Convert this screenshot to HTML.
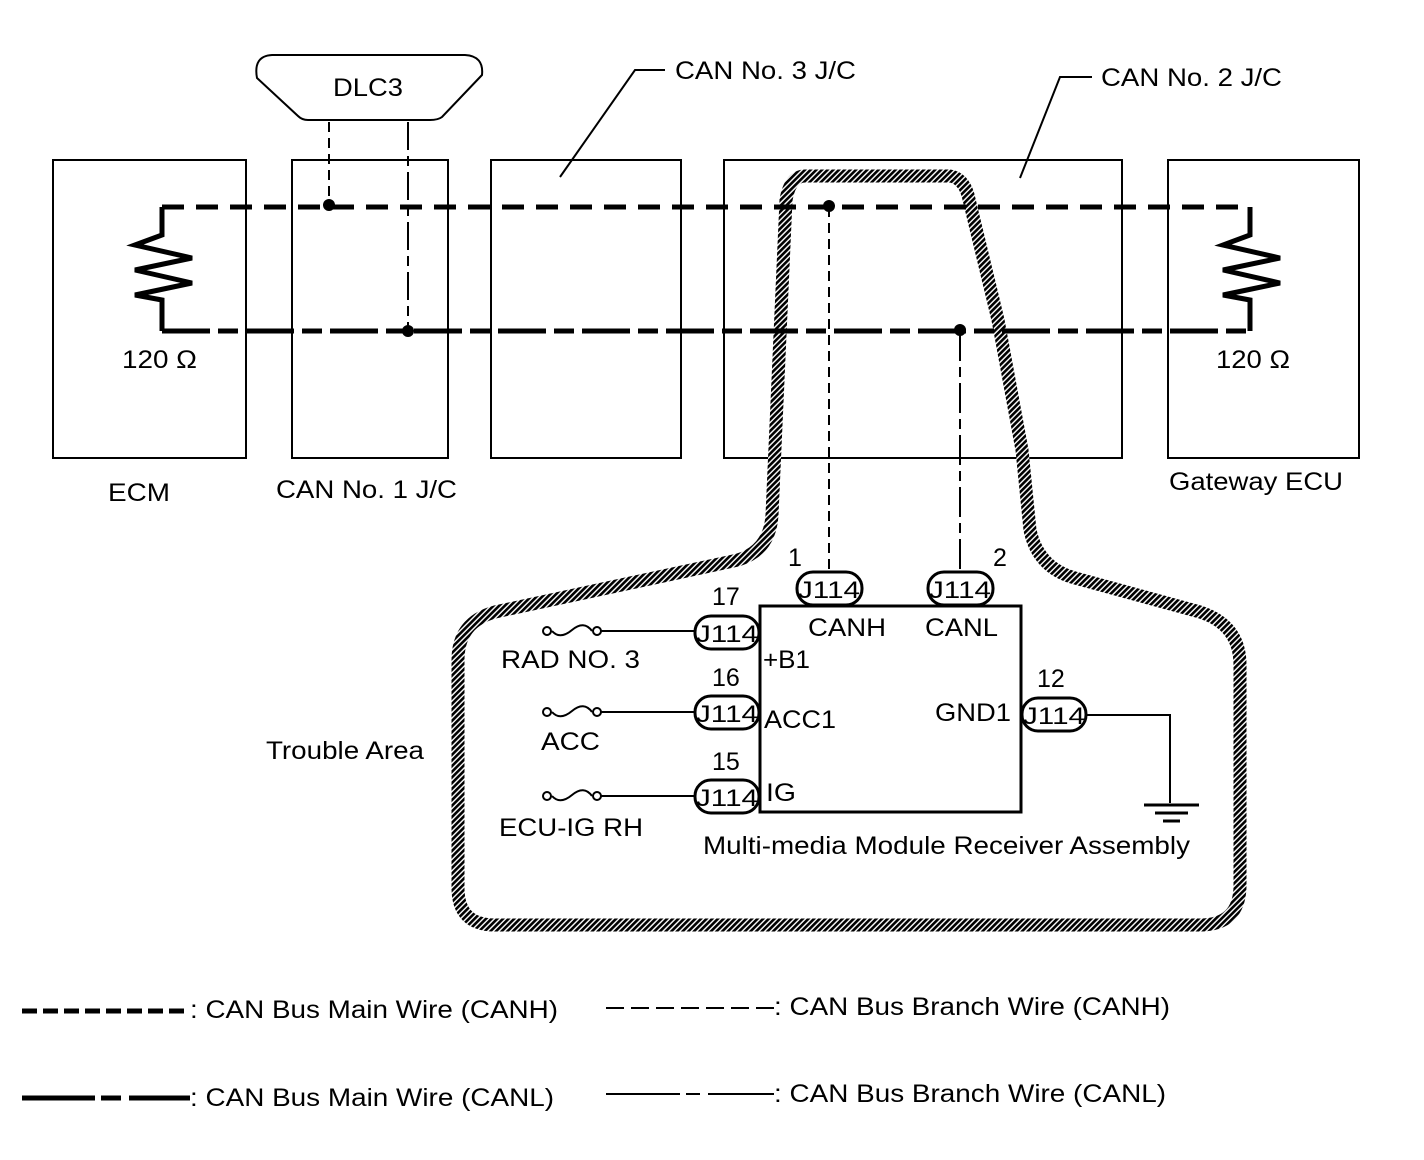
<!DOCTYPE html>
<html><head><meta charset="utf-8"><style>
html,body{margin:0;padding:0;background:#fff;}
svg{display:block;}
text{font-family:"Liberation Sans",Arial,sans-serif;fill:#000;}
</style></head><body>
<svg width="1424" height="1160" viewBox="0 0 1424 1160" xmlns="http://www.w3.org/2000/svg">
<defs>
<pattern id="h" width="4" height="4" patternUnits="userSpaceOnUse" patternTransform="rotate(45)">
<rect width="4" height="4" fill="#fff"/><rect width="2.6" height="4" fill="#000"/>
</pattern>
</defs>
<g fill="none" stroke="#000">
<g stroke-width="2">
<rect x="53" y="160" width="193" height="298"/>
<rect x="292" y="160" width="156" height="298"/>
<rect x="491" y="160" width="190" height="298"/>
<rect x="724" y="160" width="398" height="298"/>
<rect x="1168" y="160" width="191" height="298"/>
</g>
<g stroke-width="2">
<polyline points="665,70 635,70 560,177"/>
<polyline points="1092,77 1060,77 1020,178"/>
</g>
<path d="M272,55 L465,55 Q484,56 482,75 L442,117 Q438,120 430,120 L308,120 Q302,120 298,116 L257,78 Q253,56 272,55 Z" stroke-width="2"/>
<path d="M805,176 L950,176 Q963,178 968,195 L998,320 L1022,450 L1030,530 Q1038,568 1075,578 L1200,612 Q1240,625 1240,665 L1240,885 Q1240,925 1200,925 L495,925 Q458,925 458,888 L458,660 Q458,622 495,612 L738,560 Q770,550 772,515 L786,200 Q790,176 805,176 Z" stroke="url(#h)" stroke-width="13"/>
<line x1="162" y1="207" x2="1250" y2="207" stroke-width="5" stroke-dasharray="22,12"/>
<line x1="162" y1="331" x2="1250" y2="331" stroke-width="5" stroke-dasharray="48,8,20,8"/>
<polyline points="162,207 162,235 135,245 192,258 135,270 192,283 135,295 162,300 162,331" stroke-width="5" stroke-linejoin="miter"/>
<polyline points="1250,207 1250,235 1223,245 1280,258 1223,270 1280,283 1223,295 1250,300 1250,331" stroke-width="5"/>
<line x1="329" y1="122" x2="329" y2="207" stroke-width="2" stroke-dasharray="10,6"/>
<line x1="408" y1="122" x2="408" y2="331" stroke-width="2" stroke-dasharray="28,6,10,6"/>
<line x1="829" y1="207" x2="829" y2="572" stroke-width="2" stroke-dasharray="10,6"/>
<line x1="960" y1="331" x2="960" y2="572" stroke-width="2" stroke-dasharray="30,6,10,6"/>
<rect x="760" y="606" width="261" height="206" stroke-width="3"/>
<g stroke-width="2">
<line x1="600" y1="631" x2="695" y2="631"/>
<line x1="600" y1="712" x2="695" y2="712"/>
<line x1="600" y1="796" x2="695" y2="796"/>
<polyline points="1085,715 1170,715 1170,803"/>
<path d="M552,631 Q560,640 572,630 Q584,620 592,631"/>
<path d="M552,712 Q560,721 572,711 Q584,701 592,712"/>
<path d="M552,796 Q560,805 572,795 Q584,785 592,796"/>
<circle cx="547" cy="631" r="4"/><circle cx="597" cy="631" r="4"/>
<circle cx="547" cy="712" r="4"/><circle cx="597" cy="712" r="4"/>
<circle cx="547" cy="796" r="4"/><circle cx="597" cy="796" r="4"/>
</g>
<g stroke-width="3">
<line x1="1144" y1="805" x2="1199" y2="805"/>
<line x1="1155" y1="813" x2="1188" y2="813"/>
<line x1="1163" y1="821" x2="1180" y2="821"/>
</g>
<g stroke-width="3" fill="#fff">
<rect x="797" y="572" width="65" height="33" rx="16"/>
<rect x="928" y="572" width="65" height="33" rx="16"/>
<rect x="695" y="616" width="64" height="33" rx="16"/>
<rect x="695" y="696" width="64" height="33" rx="16"/>
<rect x="695" y="780" width="64" height="33" rx="16"/>
<rect x="1022" y="698" width="64" height="33" rx="16"/>
</g>
<line x1="22" y1="1011" x2="190" y2="1011" stroke-width="5" stroke-dasharray="15,6"/>
<line x1="22" y1="1098" x2="190" y2="1098" stroke-width="5" stroke-dasharray="73,6,20,8,70,0"/>
<line x1="606" y1="1008" x2="774" y2="1008" stroke-width="2" stroke-dasharray="18,7"/>
<line x1="606" y1="1094" x2="774" y2="1094" stroke-width="2" stroke-dasharray="74,6,14,8,70,0"/>
</g>
<g fill="#000">
<circle cx="329" cy="205" r="6"/><circle cx="408" cy="331" r="6"/>
<circle cx="829" cy="206" r="6"/><circle cx="960" cy="330" r="6"/>
</g>
<g font-size="25" lengthAdjust="spacingAndGlyphs">
<text x="333" y="96" textLength="70" lengthAdjust="spacingAndGlyphs">DLC3</text>
<text x="675" y="79" textLength="181" lengthAdjust="spacingAndGlyphs">CAN No. 3 J/C</text>
<text x="1101" y="86" textLength="181" lengthAdjust="spacingAndGlyphs">CAN No. 2 J/C</text>
<text x="122" y="368" textLength="75" lengthAdjust="spacingAndGlyphs">120 Ω</text>
<text x="1216" y="368" textLength="74" lengthAdjust="spacingAndGlyphs">120 Ω</text>
<text x="108" y="501" textLength="62" lengthAdjust="spacingAndGlyphs">ECM</text>
<text x="276" y="498" textLength="181" lengthAdjust="spacingAndGlyphs">CAN No. 1 J/C</text>
<text x="1169" y="490" textLength="174" lengthAdjust="spacingAndGlyphs">Gateway ECU</text>
<text x="266" y="759" textLength="158" lengthAdjust="spacingAndGlyphs">Trouble Area</text>
<text x="788" y="566">1</text>
<text x="993" y="566">2</text>
<text x="712" y="605">17</text>
<text x="712" y="686">16</text>
<text x="712" y="770">15</text>
<text x="1037" y="687">12</text>
<text x="808" y="636" textLength="78" lengthAdjust="spacingAndGlyphs">CANH</text>
<text x="925" y="636" textLength="73" lengthAdjust="spacingAndGlyphs">CANL</text>
<text x="763" y="668" textLength="47" lengthAdjust="spacingAndGlyphs">+B1</text>
<text x="764" y="728" textLength="72" lengthAdjust="spacingAndGlyphs">ACC1</text>
<text x="935" y="721" textLength="76" lengthAdjust="spacingAndGlyphs">GND1</text>
<text x="766" y="801" textLength="30" lengthAdjust="spacingAndGlyphs">IG</text>
<text x="501" y="668" textLength="139" lengthAdjust="spacingAndGlyphs">RAD NO. 3</text>
<text x="541" y="750" textLength="59" lengthAdjust="spacingAndGlyphs">ACC</text>
<text x="499" y="836" textLength="144" lengthAdjust="spacingAndGlyphs">ECU-IG RH</text>
<text x="703" y="854" textLength="487" lengthAdjust="spacingAndGlyphs">Multi-media Module Receiver Assembly</text>
<text x="190" y="1018" textLength="368" lengthAdjust="spacingAndGlyphs">: CAN Bus Main Wire (CANH)</text>
<text x="190" y="1106" textLength="364" lengthAdjust="spacingAndGlyphs">: CAN Bus Main Wire (CANL)</text>
<text x="774" y="1015" textLength="396" lengthAdjust="spacingAndGlyphs">: CAN Bus Branch Wire (CANH)</text>
<text x="774" y="1102" textLength="392" lengthAdjust="spacingAndGlyphs">: CAN Bus Branch Wire (CANL)</text>
</g>
<g font-size="24">
<text x="798" y="598" textLength="62" lengthAdjust="spacingAndGlyphs">J114</text>
<text x="929" y="598" textLength="62" lengthAdjust="spacingAndGlyphs">J114</text>
<text x="696" y="642" textLength="62" lengthAdjust="spacingAndGlyphs">J114</text>
<text x="696" y="722" textLength="62" lengthAdjust="spacingAndGlyphs">J114</text>
<text x="696" y="806" textLength="62" lengthAdjust="spacingAndGlyphs">J114</text>
<text x="1023" y="724" textLength="62" lengthAdjust="spacingAndGlyphs">J114</text>
</g>
</svg>
</body></html>
